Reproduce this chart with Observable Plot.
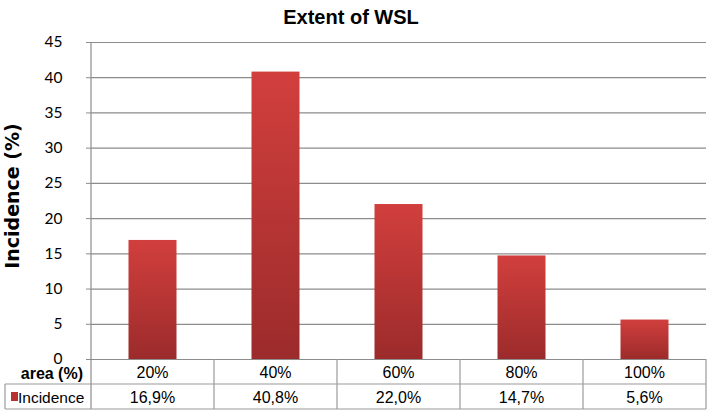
<!DOCTYPE html>
<html>
<head>
<meta charset="utf-8">
<script src="https://cdn.jsdelivr.net/npm/d3@7"></script>
<script src="https://cdn.jsdelivr.net/npm/@observablehq/plot@0.6"></script>
<style>
  html, body { margin: 0; padding: 0; background: #fff; }
  #chart svg text { fill: #000; }
</style>
</head>
<body>
<div id="chart"></div>
<script>
const categories = ["20%", "40%", "60%", "80%", "100%"];
const incidence = [16.9, 40.8, 22.0, 14.7, 5.6];
const valueLabels = ["16,9%", "40,8%", "22,0%", "14,7%", "5,6%"];
const yTicks = [0, 5, 10, 15, 20, 25, 30, 35, 40, 45];
const titleText = "Extent of WSL";
const yLabelText = "Incidence (%)";
const rowHeader = "area (%)";
const seriesName = "Incidence";

const data = categories.map((c, i) => ({area: c, incidence: incidence[i]}));

const gridColor = "#8c8c8c";
const tableColor = "#9a9a9a";

const svg = Plot.plot({
  width: 708,
  height: 411,
  marginTop: 42,
  marginBottom: 52,
  marginLeft: 91,
  marginRight: 2,
  style: {background: "#fff", color: gridColor, fontFamily: "Lato", fontSize: "15.5px", overflow: "visible"},
  x: {domain: categories, padding: 0, axis: null},
  y: {domain: [0, 45], ticks: yTicks, tickSize: 5, tickPadding: 24, label: null, tickFormat: d => String(d)},
  marks: [
    Plot.ruleY(yTicks, {stroke: gridColor, strokeWidth: 1.2}),
    Plot.barY(data, {x: "area", y: "incidence", fill: "url(#barGrad)", insetLeft: 37.5, insetRight: 37.5}),
    Plot.text([titleText], {frameAnchor: "top", dx: -48, dy: -33, fontWeight: "bold", fontSize: 20, fontFamily: "Liberation Sans", fill: "#000"}),
    Plot.text([yLabelText], {frameAnchor: "left", textAnchor: "middle", dx: -79, dy: -5, rotate: -90, fontWeight: "bold", fontSize: 19, fontFamily: "DejaVu Sans", fill: "#000"})
  ]
});

const s = d3.select(svg);
const defs = s.insert("defs", ":first-child");
const grad = defs.append("linearGradient").attr("id", "barGrad")
  .attr("x1", 0).attr("y1", 0).attr("x2", 0).attr("y2", 1);
grad.append("stop").attr("offset", "0%").attr("stop-color", "#d13f3d");
grad.append("stop").attr("offset", "100%").attr("stop-color", "#9c2b2b");

const xs = svg.scale("x");
const ys = svg.scale("y");
const band = d3.scaleBand().domain(xs.domain).range(xs.range)
  .paddingInner(xs.paddingInner ?? 0).paddingOuter(xs.paddingOuter ?? 0).align(xs.align ?? 0.5);
const yS = d3.scaleLinear().domain(ys.domain).range(ys.range);

const x0 = xs.range[0], x1 = xs.range[1];
const yZero = yS(0), yTop = yS(45);
const row1 = yZero + 25, row2 = yZero + 50;
const leftX = 5;

const g = s.append("g").attr("stroke", tableColor).attr("stroke-width", 1.2).attr("fill", "none");
g.append("line").attr("x1", x0).attr("x2", x0).attr("y1", yTop).attr("y2", row2).attr("stroke", gridColor);
categories.forEach((c) => {
  const xb = band(c) + band.bandwidth();
  g.append("line").attr("x1", xb).attr("x2", xb).attr("y1", yZero).attr("y2", row2);
});
g.append("line").attr("x1", leftX).attr("x2", leftX).attr("y1", row1).attr("y2", row2);
g.append("line").attr("x1", leftX).attr("x2", x1).attr("y1", row1).attr("y2", row1);
g.append("line").attr("x1", leftX).attr("x2", x1).attr("y1", row2).attr("y2", row2);

const t = s.append("g").attr("font-family", "Liberation Sans").attr("fill", "#000");
categories.forEach((c, i) => {
  const cx = band(c) + band.bandwidth() / 2;
  t.append("text").attr("x", cx).attr("y", yZero + 19).attr("text-anchor", "middle").attr("font-size", 16).text(c);
  t.append("text").attr("x", cx).attr("y", yZero + 44).attr("text-anchor", "middle").attr("font-size", 16).text(valueLabels[i]);
});
t.append("text").attr("x", x0 - 8).attr("y", yZero + 20).attr("text-anchor", "end")
  .attr("font-size", 16).attr("font-weight", "bold").text(rowHeader);
s.append("rect").attr("x", 11).attr("y", yZero + 33).attr("width", 7).attr("height", 9).attr("fill", "#b83232");
t.append("text").attr("x", 18).attr("y", yZero + 43.5).attr("text-anchor", "start").attr("font-size", 15.5).text(seriesName);

document.getElementById("chart").appendChild(svg);
</script>
</body>
</html>
